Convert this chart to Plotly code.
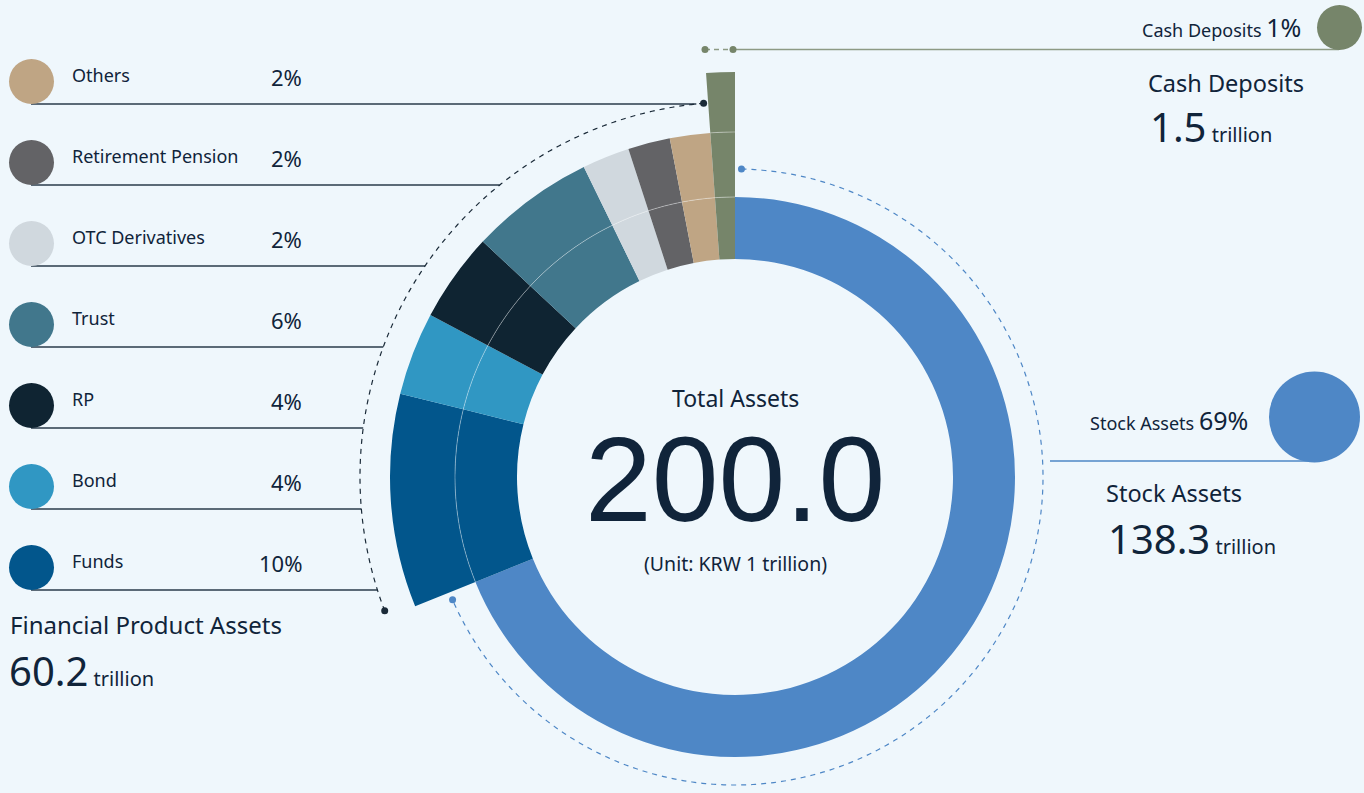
import numpy as np
import plotly.graph_objects as go

# ---------------- data ----------------
segments = ["Stock Assets", "Funds", "Bond", "RP", "Trust",
            "OTC Derivatives", "Retirement Pension", "Others", "Cash Deposits"]
share_pct = [68.9, 10.0, 3.9, 4.17, 5.83, 2.22, 1.97, 1.89, 1.14]
seg_group = ["stock", "fin", "fin", "fin", "fin", "fin", "fin", "fin", "cash"]
seg_colors = ["#4E87C6", "#02568C", "#3097C3", "#0F2432", "#41778C",
              "#D0D8DE", "#636366", "#BFA584", "#76856A"]

total_assets = 200.0
stock_assets = 138.3
fin_assets = 60.2
cash_assets = 1.5
unit_label = "(Unit: KRW 1 trillion)"

# ---------------- layout constants ----------------
W, H = 1364, 793
CX, CY = 735, 477
R1 = 316          # main polar radius (px == units)
R2 = 410          # upper-left sector polar radius
R_IN, R_MID, R_OUT, R_TOP = 218, 280, 345, 405
R_BLUE, R_BLACK = 308, 375
BG = "#EFF7FC"
INK = "#10243A"
FONT = "Noto Sans"

n = len(segments)
spans = np.array(share_pct) / sum(share_pct) * 360.0
starts = np.cumsum(spans) - spans
centers = starts + spans / 2

fig = go.Figure()

# ---- main polar: stock ring + blue dashed arc ----
si = [i for i in range(n) if seg_group[i] == "stock"]
fig.add_trace(go.Barpolar(
    theta=centers[si], width=spans[si], base=[R_IN] * len(si), r=[R_MID - R_IN] * len(si),
    marker=dict(color=[seg_colors[i] for i in si], line=dict(width=0)),
    hoverinfo="skip", subplot="polar"))

b0, b1 = 1.2, starts[1] - 1.5
th = np.linspace(b0, b1, 500)
fig.add_trace(go.Scatterpolar(theta=th, r=[R_BLUE] * len(th), mode="lines",
                              line=dict(color="#4E87C6", width=1.2, dash="5px,5px"),
                              hoverinfo="skip", subplot="polar"))
fig.add_trace(go.Scatterpolar(theta=[b0, b1], r=[R_BLUE, R_BLUE], mode="markers",
                              marker=dict(color="#4E87C6", size=7, opacity=1),
                              hoverinfo="skip", subplot="polar"))

# ---- sector polar: financial products + cash ----
fi = [i for i in range(n) if seg_group[i] != "stock"]
fig.add_trace(go.Barpolar(
    theta=centers[fi], width=spans[fi], base=[R_IN] * len(fi), r=[R_MID - R_IN] * len(fi),
    marker=dict(color=[seg_colors[i] for i in fi], line=dict(width=0)),
    hoverinfo="skip", subplot="polar2"))
fig.add_trace(go.Barpolar(
    theta=centers[fi], width=spans[fi], base=[R_MID] * len(fi), r=[R_OUT - R_MID] * len(fi),
    marker=dict(color=[seg_colors[i] for i in fi], line=dict(width=0)),
    hoverinfo="skip", subplot="polar2"))
ci = [i for i in range(n) if seg_group[i] == "cash"]
fig.add_trace(go.Barpolar(
    theta=centers[ci], width=spans[ci], base=[R_OUT] * len(ci), r=[R_TOP - R_OUT] * len(ci),
    marker=dict(color=[seg_colors[i] for i in ci], line=dict(width=0)),
    hoverinfo="skip", subplot="polar2"))

# faint ring dividers
th = np.linspace(starts[1], 360, 200)
fig.add_trace(go.Scatterpolar(theta=th, r=[R_MID] * len(th), mode="lines",
                              line=dict(color="rgba(255,255,255,0.38)", width=1),
                              hoverinfo="skip", subplot="polar2"))
th = np.linspace(starts[-1], 360, 20)
fig.add_trace(go.Scatterpolar(theta=th, r=[R_OUT] * len(th), mode="lines",
                              line=dict(color="rgba(255,255,255,0.38)", width=1),
                              hoverinfo="skip", subplot="polar2"))

# black dashed arc
k0, k1 = starts[1] + 1.1, starts[-1] - 0.7
th = np.linspace(k0, k1, 400)
fig.add_trace(go.Scatterpolar(theta=th, r=[R_BLACK] * len(th), mode="lines",
                              line=dict(color="#1A2A38", width=1.2, dash="5px,5px"),
                              hoverinfo="skip", subplot="polar2"))
fig.add_trace(go.Scatterpolar(theta=[k0, k1], r=[R_BLACK, R_BLACK], mode="markers",
                              marker=dict(color="#1A2A38", size=7, opacity=1),
                              hoverinfo="skip", subplot="polar2"))

# ---------------- legend rows (left) ----------------
fin_idx = [i for i in range(n) if seg_group[i] == "fin"][::-1]
row_y0, row_dy = 104, 81
shapes = []
annotations = []


def ann(text, x, baseline, size, xanchor="left", color=INK, family=FONT, **kw):
    annotations.append(dict(text=text, x=x, y=baseline - 0.36 * size, xref="x", yref="y",
                            xanchor=xanchor, yanchor="middle", showarrow=False,
                            font=dict(family=family, size=size, color=color), **kw))


leg_x, leg_y, leg_c = [], [], []
for k, i in enumerate(fin_idx):
    yl = row_y0 + row_dy * k
    dy = yl - CY
    x_end = CX - np.sqrt(max(R_BLACK ** 2 - dy ** 2, 0))
    shapes.append(dict(type="line", x0=31, x1=x_end, y0=yl, y1=yl, xref="x", yref="y",
                       line=dict(color="#2A3B4B", width=1.3), layer="below"))
    leg_x.append(31.5)
    leg_y.append(yl - 22.5)
    leg_c.append(seg_colors[i])
    ann(segments[i], 70, yl - 22.5, 18)
    ann(f"{round(share_pct[i])}%", 304, yl - 19.5, 22, xanchor="right")

fig.add_trace(go.Scatter(x=leg_x, y=leg_y, mode="markers",
                         marker=dict(color=leg_c, size=45, opacity=1, line=dict(width=0)),
                         hoverinfo="skip", xaxis="x", yaxis="y"))

# ---------------- right side callouts ----------------
cash_i = segments.index("Cash Deposits")
stock_i = segments.index("Stock Assets")
shapes.append(dict(type="line", x0=733, x1=1339, y0=49.5, y1=49.5, xref="x", yref="y",
                   line=dict(color="#8D9A84", width=1.3), layer="below"))
shapes.append(dict(type="line", x0=705, x1=733, y0=49.5, y1=49.5, xref="x", yref="y",
                   line=dict(color="#8D9A84", width=1.3, dash="5px,4px"), layer="below"))
shapes.append(dict(type="line", x0=1050, x1=1314, y0=461, y1=461, xref="x", yref="y",
                   line=dict(color="#4E87C6", width=1.3), layer="below"))

fig.add_trace(go.Scatter(x=[705, 733], y=[49.5, 49.5], mode="markers",
                         marker=dict(color=seg_colors[cash_i], size=7, opacity=1),
                         hoverinfo="skip", xaxis="x", yaxis="y"))
fig.add_trace(go.Scatter(x=[1339.5, 1314.5], y=[27.5, 417], mode="markers",
                         marker=dict(color=[seg_colors[cash_i], seg_colors[stock_i]],
                                     size=[45, 91], opacity=1, line=dict(width=0)),
                         hoverinfo="skip", xaxis="x", yaxis="y"))

ann(f"Cash Deposits <span style='font-size:25px'>{round(share_pct[cash_i])}%</span>",
    1303, 33, 18, xanchor="right")
ann("Cash Deposits", 1146, 91, 23.5)
ann(f"{cash_assets:.1f}<span style='font-size:20px'> trillion</span>", 1148, 141, 40)

ann(f"Stock Assets <span style='font-size:25px'>{round(share_pct[stock_i])}%</span>",
    1250, 426, 18, xanchor="right")
ann("Stock Assets", 1104, 501, 23.5)
ann(f"{stock_assets:.1f}<span style='font-size:20px'> trillion</span>", 1106, 553, 40)

ann("Financial Product Assets", 8, 633, 24)
ann(f"{fin_assets:.1f}<span style='font-size:20px'> trillion</span>", 7, 685, 40)

# ---------------- center ----------------
ann("Total Assets", CX, 406, 23, xanchor="center")
ann(f"{total_assets:.1f}", CX, 522, 120, xanchor="center",
    family="Liberation Sans, Noto Sans")
ann(unit_label, CX, 571, 19.5, xanchor="center")

fig.update_layout(
    width=W, height=H, margin=dict(l=0, r=0, t=0, b=0),
    paper_bgcolor=BG, plot_bgcolor="rgba(0,0,0,0)", showlegend=False,
    font=dict(family=FONT, color=INK),
    xaxis=dict(range=[0, W], domain=[0, 1], visible=False, fixedrange=True),
    yaxis=dict(range=[H, 0], domain=[0, 1], visible=False, fixedrange=True),
    polar=dict(
        domain=dict(x=[(CX - R1) / W, (CX + R1) / W],
                    y=[(H - CY - R1) / H, (H - CY + R1) / H]),
        bgcolor="rgba(0,0,0,0)", hole=0, barmode="overlay",
        radialaxis=dict(range=[0, R1], visible=False, showgrid=False),
        angularaxis=dict(visible=False, rotation=90, direction="clockwise", showgrid=False),
    ),
    # sector [90, 210] -> bbox x in [-1, 0], y in [-0.5, 1] (units of radius)
    polar2=dict(
        sector=[90, 210],
        domain=dict(x=[(CX - R2) / W, CX / W],
                    y=[(H - CY - 0.5 * R2) / H, (H - CY + R2) / H]),
        bgcolor="rgba(0,0,0,0)", hole=0, barmode="overlay",
        radialaxis=dict(range=[0, R2], visible=False, showgrid=False),
        angularaxis=dict(visible=False, rotation=90, direction="clockwise", showgrid=False),
    ),
    shapes=shapes, annotations=annotations,
)

fig.write_html("out.html", config={"displayModeBar": False},
               post_script="document.body.style.margin='0';document.body.style.overflow='hidden';")
